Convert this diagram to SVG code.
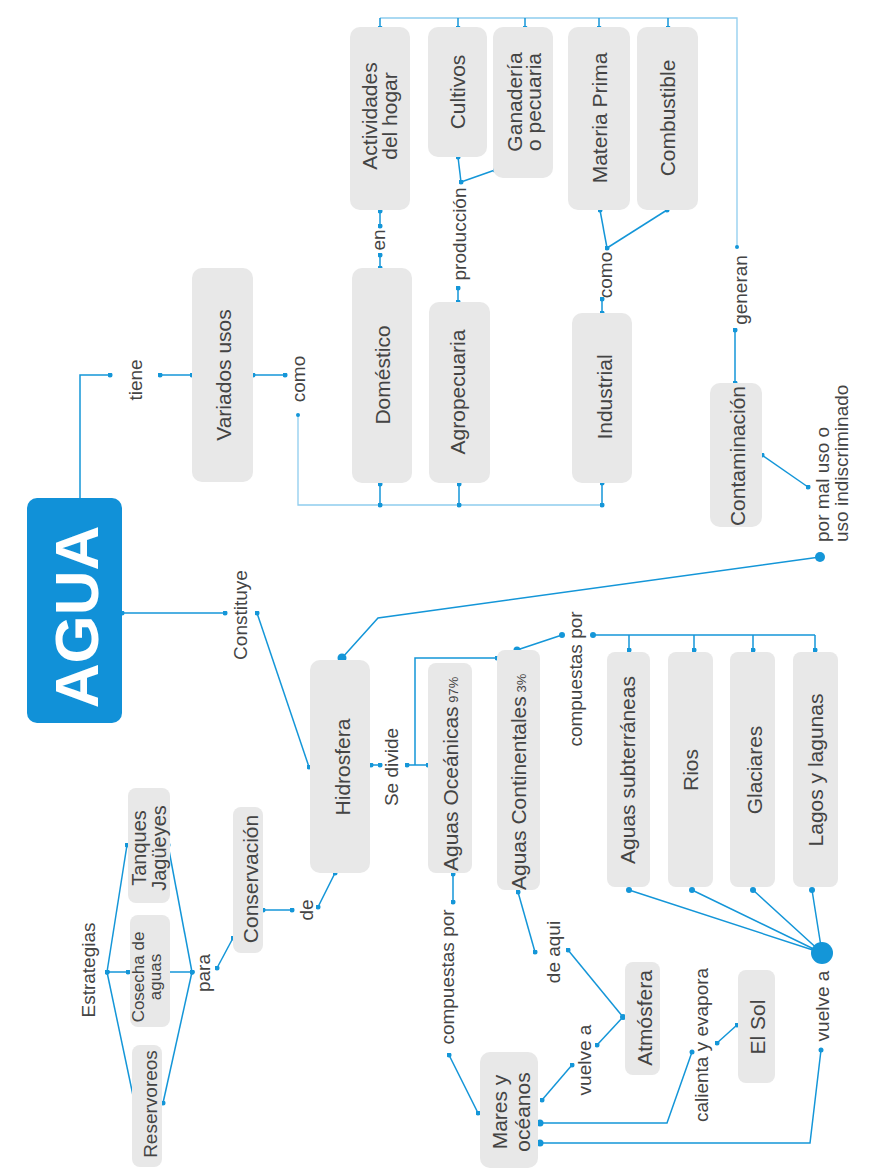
<svg xmlns="http://www.w3.org/2000/svg" width="873" height="1172" viewBox="0 0 873 1172">
<style>
.bx{fill:#e8e8e8;}
.n{font-family:"Liberation Sans",Arial,sans-serif;font-size:21px;fill:#444444;text-anchor:middle;}
.l{font-family:"Liberation Sans",Arial,sans-serif;font-size:19px;fill:#444444;text-anchor:middle;}
.c{fill:none;stroke:#1496d8;stroke-width:1.5;marker-start:url(#dot);marker-end:url(#dot);}
.cn{fill:none;stroke:#1496d8;stroke-width:1.5;}
.lt{fill:none;stroke:#8fcdee;stroke-width:1.3;}
.bd{fill:#1496d8;}
</style>
<defs>
<marker id="dot" viewBox="0 0 6 6" refX="3" refY="3" markerWidth="5" markerHeight="5" markerUnits="userSpaceOnUse"><circle cx="3" cy="3" r="3" fill="#1496d8"/></marker>
</defs>
<rect width="873" height="1172" fill="#ffffff"/>

<g id="connectors">
<path class="cn" d="M80,498 V375 H110" marker-end="url(#dot)"/>
<path class="c" d="M160,375 H192"/>
<path class="c" d="M253,375 H285"/>
<path class="lt" d="M298,415 V505 H602"/>
<circle class="bd" cx="298" cy="415" r="2"/>
<path class="c" d="M380,505 V484"/>
<path class="c" d="M459,505 V484"/>
<path class="c" d="M602,505 V483"/>
<path class="c" d="M380,268 V255"/>
<path class="c" d="M380,226 V211"/>
<path class="c" d="M458,302 V288"/>
<path class="c" d="M461,182 L458,157"/>
<path class="cn" d="M461,182 L495,170" marker-end="url(#dot)"/>
<path class="c" d="M602,313 V299"/>
<path class="c" d="M607,248 L600,210"/>
<path class="cn" d="M607,248 L667,210" marker-end="url(#dot)"/>
<path class="lt" d="M737,247 V18 H380"/>
<circle class="bd" cx="737" cy="247" r="2"/>
<path class="cn" d="M380,18 V28" marker-end="url(#dot)"/>
<path class="cn" d="M458,18 V28" marker-end="url(#dot)"/>
<path class="cn" d="M525,18 V28" marker-end="url(#dot)"/>
<path class="cn" d="M599,18 V28" marker-end="url(#dot)"/>
<path class="cn" d="M668,18 V28" marker-end="url(#dot)"/>
<path class="c" d="M735,330 V383"/>
<path class="c" d="M762,455 L808,487"/>
<path class="cn" d="M342,658 L378,618 L820,557"/>
<circle class="bd" cx="342" cy="658" r="4.5"/>
<circle class="bd" cx="820" cy="557" r="5"/>
<path class="c" d="M122,613 H225"/>
<path class="c" d="M257,613 L309,767"/>
<path class="c" d="M371,765 H380"/>
<path class="c" d="M407,765 H428"/>
<path class="cn" d="M415,765 V658 H497" marker-end="url(#dot)"/>
<path class="cn" d="M517,650 L562,635"/>
<circle class="bd" cx="517" cy="650" r="3.5"/>
<circle class="bd" cx="562" cy="635" r="3"/>
<path class="cn" d="M593,635 H815"/>
<circle class="bd" cx="593" cy="635" r="3"/>
<path class="cn" d="M629,635 V650" marker-end="url(#dot)"/>
<path class="cn" d="M694,635 V650" marker-end="url(#dot)"/>
<path class="cn" d="M753,635 V650" marker-end="url(#dot)"/>
<path class="cn" d="M815,635 V650" marker-end="url(#dot)"/>
<path class="cn" d="M629,890 L822,953 M692,890 L822,953 M753,890 L822,953 M812,890 L822,953"/>
<circle class="bd" cx="629" cy="890" r="3"/>
<circle class="bd" cx="692" cy="890" r="3"/>
<circle class="bd" cx="753" cy="890" r="3"/>
<circle class="bd" cx="812" cy="890" r="3"/>
<circle class="bd" cx="822" cy="953" r="11"/>
<path class="cn" d="M821,1050 L810,1143 H540"/>
<circle class="bd" cx="821" cy="1050" r="2.5"/>
<circle class="bd" cx="540" cy="1143" r="3.5"/>
<path class="c" d="M453,874 V902"/>
<path class="c" d="M449,1055 L478,1113"/>
<path class="c" d="M518,892 L535,952"/>
<path class="c" d="M568,950 L623,1017"/>
<path class="cn" d="M623,1017 L597,1045" marker-end="url(#dot)"/>
<circle class="bd" cx="623" cy="1017" r="3"/>
<path class="c" d="M572,1065 L542,1100"/>
<path class="c" d="M737,1025 L717,1043"/>
<path class="cn" d="M692,1052 L667,1123 H540"/>
<circle class="bd" cx="692" cy="1052" r="2.5"/>
<circle class="bd" cx="540" cy="1123" r="3.5"/>
<path class="c" d="M107,972 L127,845"/>
<path class="c" d="M107,972 H128"/>
<path class="c" d="M107,972 L135,1105"/>
<path class="c" d="M192,972 L168,845"/>
<path class="c" d="M192,972 H167"/>
<path class="c" d="M192,972 L163,1103"/>
<path class="c" d="M217,968 L233,938"/>
<path class="c" d="M263,910 H292"/>
<path class="c" d="M318,907 L335,873"/>
</g>

<g id="agua">
<rect x="27" y="498" width="95" height="225" rx="10" fill="#1191d8"/>
<text transform="translate(98,617) rotate(-90)" font-family="'Liberation Sans',Arial,sans-serif" font-weight="bold" font-size="62" fill="#ffffff" text-anchor="middle">AGUA</text>
</g>
<g id="variados"><rect class="bx" x="192" y="268" width="61" height="214" rx="10"/><text class="n" transform="translate(231,375) rotate(-90)">Variados usos</text></g>
<g id="domestico"><rect class="bx" x="352" y="268" width="60" height="215" rx="10"/><text class="n" transform="translate(390,375) rotate(-90)">Doméstico</text></g>
<g id="agropecuaria"><rect class="bx" x="429" y="302" width="61" height="181" rx="10"/><text class="n" transform="translate(465,392) rotate(-90)">Agropecuaria</text></g>
<g id="industrial"><rect class="bx" x="572" y="313" width="60" height="170" rx="10"/><text class="n" transform="translate(612,397) rotate(-90)">Industrial</text></g>
<g id="actividades"><rect class="bx" x="350" y="27" width="60" height="183" rx="10"/><text class="n" transform="translate(377,116) rotate(-90)">Actividades</text><text class="n" transform="translate(397,116) rotate(-90)">del hogar</text></g>
<g id="cultivos"><rect class="bx" x="428" y="27" width="59" height="130" rx="10"/><text class="n" transform="translate(465,92) rotate(-90)">Cultivos</text></g>
<g id="ganaderia"><rect class="bx" x="493" y="27" width="60" height="151" rx="10"/><text class="n" transform="translate(522,102) rotate(-90)">Ganadería</text><text class="n" transform="translate(541,102) rotate(-90)">o pecuaria</text></g>
<g id="materia"><rect class="bx" x="568" y="27" width="62" height="183" rx="10"/><text class="n" transform="translate(607,118) rotate(-90)">Materia Prima</text></g>
<g id="combustible"><rect class="bx" x="637" y="27" width="61" height="183" rx="10"/><text class="n" transform="translate(675,118) rotate(-90)">Combustible</text></g>
<g id="contaminacion"><rect class="bx" x="710" y="383" width="52" height="144" rx="10"/><text class="n" transform="translate(745,456) rotate(-90)">Contaminación</text></g>
<g id="hidrosfera"><rect class="bx" x="310" y="660" width="60" height="213" rx="10"/><text class="n" transform="translate(350,767) rotate(-90)">Hidrosfera</text></g>
<g id="oceanicas"><rect class="bx" x="428" y="663" width="44" height="210" rx="8"/><text class="n" style="text-anchor:start" transform="translate(458,871) rotate(-90)">Aguas Oceánicas<tspan font-size="13"> 97%</tspan></text></g>
<g id="continentales"><rect class="bx" x="497" y="650" width="43" height="240" rx="8"/><text class="n" style="text-anchor:start" transform="translate(526,890) rotate(-90)">Aguas Continentales<tspan font-size="13"> 3%</tspan></text></g>
<g id="subterraneas"><rect class="bx" x="607" y="652" width="43" height="235" rx="8"/><text class="n" transform="translate(635,770) rotate(-90)">Aguas subterráneas</text></g>
<g id="rios"><rect class="bx" x="668" y="652" width="45" height="235" rx="8"/><text class="n" transform="translate(698,770) rotate(-90)">Rios</text></g>
<g id="glaciares"><rect class="bx" x="730" y="652" width="45" height="235" rx="8"/><text class="n" transform="translate(762,770) rotate(-90)">Glaciares</text></g>
<g id="lagos"><rect class="bx" x="793" y="652" width="45" height="235" rx="8"/><text class="n" transform="translate(823,770) rotate(-90)">Lagos y lagunas</text></g>
<g id="mares"><rect class="bx" x="480" y="1052" width="58" height="116" rx="10"/><text class="n" transform="translate(507,1112) rotate(-90)">Mares y</text><text class="n" transform="translate(530,1112) rotate(-90)">océanos</text></g>
<g id="atmosfera"><rect class="bx" x="625" y="962" width="35" height="113" rx="8"/><text class="n" transform="translate(652,1018) rotate(-90)">Atmósfera</text></g>
<g id="sol"><rect class="bx" x="738" y="970" width="37" height="113" rx="8"/><text class="n" transform="translate(765,1027) rotate(-90)">El Sol</text></g>
<g id="reservoreos"><rect class="bx" x="132" y="1045" width="30" height="122" rx="8"/><text class="n" style="font-size:19px" transform="translate(157,1104) rotate(-90)">Reservoreos</text></g>
<g id="cosecha"><rect class="bx" x="130" y="915" width="40" height="112" rx="8"/><text class="n" style="font-size:17px" transform="translate(144,977) rotate(-90)">Cosecha de</text><text class="n" style="font-size:17px" transform="translate(161,977) rotate(-90)">aguas</text></g>
<g id="tanques"><rect class="bx" x="128" y="788" width="42" height="115" rx="8"/><text class="n" style="font-size:20px" transform="translate(146,848) rotate(-90)">Tanques</text><text class="n" style="font-size:20px" transform="translate(166,848) rotate(-90)">Jagüeyes</text></g>
<g id="conservacion"><rect class="bx" x="233" y="807" width="30" height="146" rx="8"/><text class="n" transform="translate(258,879) rotate(-90)">Conservación</text></g>

<g id="labels">
<text class="l" transform="translate(142,380) rotate(-90)">tiene</text>
<text class="l" transform="translate(305,379) rotate(-90)">como</text>
<text class="l" transform="translate(385,240) rotate(-90)">en</text>
<text class="l" transform="translate(466,234) rotate(-90)">producción</text>
<text class="l" transform="translate(612,275) rotate(-90)">como</text>
<text class="l" transform="translate(747,290) rotate(-90)">generan</text>
<text class="l" transform="translate(247,615) rotate(-90)">Constituye</text>
<text class="l" transform="translate(398,767) rotate(-90)">Se divide</text>
<text class="l" transform="translate(582,679) rotate(-90)">compuestas por</text>
<text class="l" transform="translate(454,977) rotate(-90)">compuestas por</text>
<text class="l" transform="translate(560,952) rotate(-90)">de aqui</text>
<text class="l" transform="translate(591,1060) rotate(-90)">vuelve a</text>
<text class="l" transform="translate(708,1045) rotate(-90)">calienta y evapora</text>
<text class="l" transform="translate(829,1006) rotate(-90)">vuelve a</text>
<text class="l" style="text-anchor:start" transform="translate(829,542) rotate(-90)">por mal uso o</text>
<text class="l" style="text-anchor:start" transform="translate(848,542) rotate(-90)">uso indiscriminado</text>
<text class="l" transform="translate(95,970) rotate(-90)">Estrategias</text>
<text class="l" transform="translate(210,973) rotate(-90)">para</text>
<text class="l" transform="translate(313,910) rotate(-90)">de</text>
</g>
</svg>
